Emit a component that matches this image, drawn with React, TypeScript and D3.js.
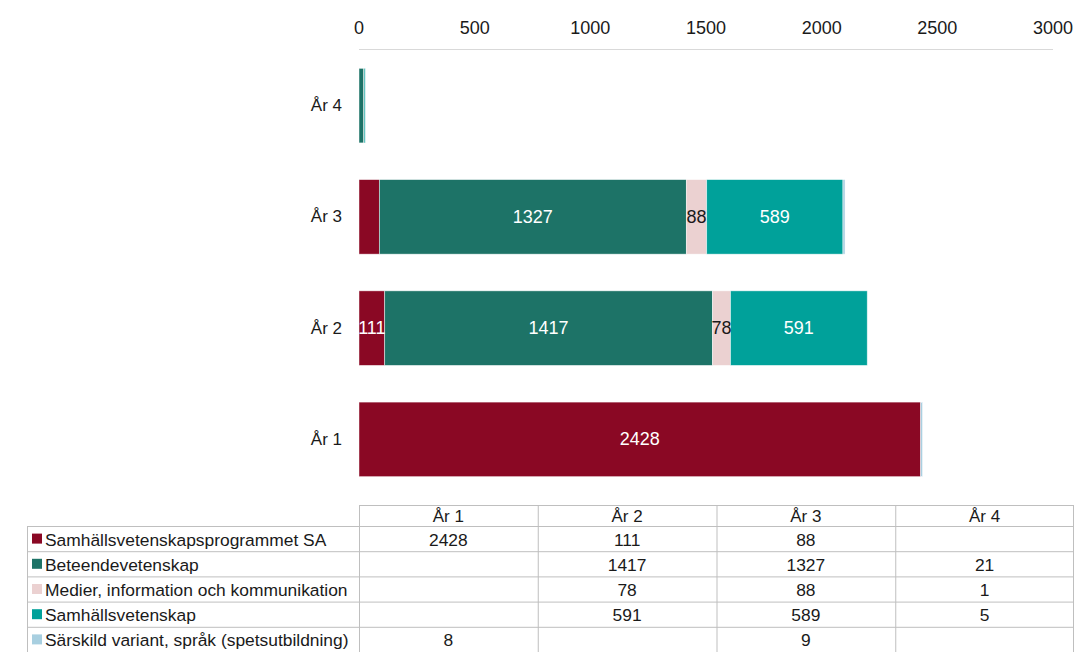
import React from "react";
import * as d3 from "d3";

const categories = ["År 1", "År 2", "År 3", "År 4"];
const seriesNames = [
  "Samhällsvetenskapsprogrammet SA",
  "Beteendevetenskap",
  "Medier, information och kommunikation",
  "Samhällsvetenskap",
  "Särskild variant, språk (spetsutbildning)",
];
const seriesColors = ["#8a0824", "#1d7367", "#ebd1d1", "#00a19a", "#a8cfe0"];
const labelColors = ["#ffffff", "#ffffff", "#1a1a1a", "#ffffff", "#1a1a1a"];

const valuesSA = [2428, 111, 88, null];
const valuesBeteende = [null, 1417, 1327, 21];
const valuesMedier = [null, 78, 88, 1];
const valuesSamh = [null, 591, 589, 5];
const valuesSarskild = [8, null, 9, null];
const seriesValues = [valuesSA, valuesBeteende, valuesMedier, valuesSamh, valuesSarskild];

const xTicks = [0, 500, 1000, 1500, 2000, 2500, 3000];

// which segment labels are displayed in the bars: [series index, category]
const shownLabels: [number, string][] = [
  [0, "År 1"],
  [0, "År 2"],
  [1, "År 2"],
  [1, "År 3"],
  [2, "År 2"],
  [2, "År 3"],
  [3, "År 2"],
  [3, "År 3"],
];

const FONT = "'Liberation Sans', Arial, sans-serif";
const W = 1074;
const H = 652;

export default function App() {
  const x = d3.scaleLinear().domain([0, 3000]).range([359, 1053]);
  const y = d3
    .scaleBand<string>()
    .domain([...categories].reverse())
    .range([50, 495])
    .paddingInner(0.33)
    .paddingOuter(0.165);

  const stackData = categories.map((c, ci) => {
    const row: any = { cat: c };
    seriesNames.forEach((s, si) => (row[s] = seriesValues[si][ci] ?? 0));
    return row;
  });
  const stacked = d3.stack<any>().keys(seriesNames)(stackData);

  const colX = d3.scaleBand<string>().domain(categories).range([359, 1074]);
  const tableTop = 505;
  const headerH = 21;
  const rowH = 25.2;
  const tableLeft = 27;
  const rowsY = seriesNames.map((_, i) => tableTop + headerH + i * rowH);
  const tableBottom = tableTop + headerH + seriesNames.length * rowH;
  const grid = "#bfbfbf";

  return (
    <svg
      width={W}
      height={H}
      style={{ position: "absolute", left: 0, top: 0, background: "#fff" }}
      fontFamily={FONT}
    >
      {/* axis */}
      <line x1={x(0)} x2={x(3000)} y1={49.5} y2={49.5} stroke="#d9d9d9" strokeWidth={1} />
      {xTicks.map((t) => (
        <text key={t} x={x(t)} y={28} textAnchor="middle" dominantBaseline="central" fontSize={18} fill="#1a1a1a">
          {t}
        </text>
      ))}

      {/* category labels */}
      {categories.map((c) => (
        <text
          key={c}
          x={342}
          y={(y(c) as number) + y.bandwidth() / 2}
          textAnchor="end"
          dominantBaseline="central"
          fontSize={17}
          fill="#1a1a1a"
        >
          {c}
        </text>
      ))}

      {/* bars */}
      {stacked.map((layer, si) => (
        <g key={layer.key}>
          {layer.map((d, ci) => {
            const w = x(d[1]) - x(d[0]);
            if (w <= 0) return null;
            return (
              <rect
                key={ci}
                x={x(d[0])}
                y={y(categories[ci])}
                width={w}
                height={y.bandwidth()}
                fill={seriesColors[si]}
                stroke="#ffffff"
                strokeOpacity={0.6}
                strokeWidth={0.75}
              />
            );
          })}
        </g>
      ))}

      {/* bar labels */}
      {stacked.map((layer, si) =>
        layer.map((d, ci) => {
          const cat = categories[ci];
          if (!shownLabels.some(([s, c]) => s === si && c === cat)) return null;
          const v = seriesValues[si][ci];
          if (v == null) return null;
          return (
            <text
              key={`${si}-${ci}`}
              x={(x(d[0]) + x(d[1])) / 2}
              y={(y(cat) as number) + y.bandwidth() / 2}
              textAnchor="middle"
              dominantBaseline="central"
              fontSize={18}
              fill={labelColors[si]}
            >
              {v}
            </text>
          );
        })
      )}

      {/* data table */}
      <g>
        <line x1={359} x2={W} y1={tableTop + 0.5} y2={tableTop + 0.5} stroke={grid} />
        {rowsY.map((ry, i) => (
          <line key={i} x1={tableLeft} x2={W} y1={ry + 0.5} y2={ry + 0.5} stroke={grid} />
        ))}
        <line x1={tableLeft + 0.5} x2={tableLeft + 0.5} y1={rowsY[0]} y2={tableBottom} stroke={grid} />
        {categories.map((c) => (
          <line
            key={c}
            x1={(colX(c) as number) + 0.5}
            x2={(colX(c) as number) + 0.5}
            y1={tableTop}
            y2={tableBottom}
            stroke={grid}
          />
        ))}
        <line x1={W - 0.5} x2={W - 0.5} y1={tableTop} y2={tableBottom} stroke={grid} />

        {categories.map((c) => (
          <text
            key={c}
            x={(colX(c) as number) + colX.bandwidth() / 2}
            y={tableTop + headerH / 2 + 1}
            textAnchor="middle"
            dominantBaseline="central"
            fontSize={17}
            fill="#1a1a1a"
          >
            {c}
          </text>
        ))}

        {seriesNames.map((s, si) => (
          <g key={s}>
            <rect x={32} y={rowsY[si] + rowH / 2 - 5} width={10} height={10} fill={seriesColors[si]} />
            <text
              x={45}
              y={rowsY[si] + rowH / 2 + 1}
              dominantBaseline="central"
              fontSize={17.4}
              fill="#1a1a1a"
            >
              {s}
            </text>
            {categories.map((c, ci) => {
              const v = seriesValues[si][ci];
              if (v == null) return null;
              return (
                <text
                  key={c}
                  x={(colX(c) as number) + colX.bandwidth() / 2}
                  y={rowsY[si] + rowH / 2 + 1}
                  textAnchor="middle"
                  dominantBaseline="central"
                  fontSize={17.4}
                  fill="#1a1a1a"
                >
                  {v}
                </text>
              );
            })}
          </g>
        ))}
      </g>
    </svg>
  );
}
